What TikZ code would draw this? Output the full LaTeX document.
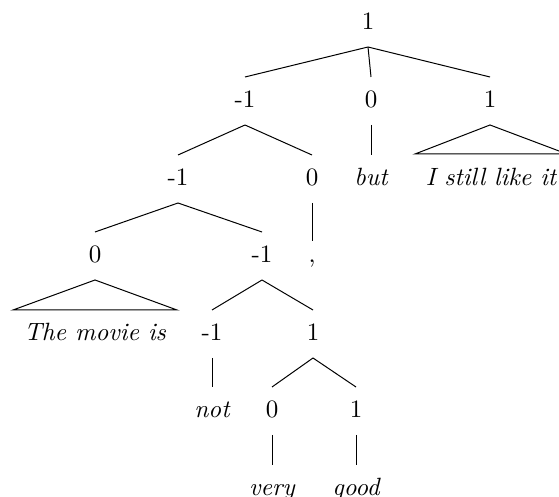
\documentclass[tikz,border=0pt]{standalone}
\usetikzlibrary{calc}
\tikzset{
  lbl/.style={anchor=base, inner sep=0pt},
  wd/.style={lbl, font=\itshape},
  br/.style={line width=0.4pt, line join=miter}
}
\begin{document}
\begin{tikzpicture}[x=0.4pt, y=-0.4pt]
\useasboundingbox (0,0) rectangle (559,497);
% level 0
\node[lbl] (r) at (368,30) {1};
% level 1
\node[lbl] (a) at (245,108) {-1};
\node[lbl] (b) at (371,108) {0};
\node[lbl] (c) at (490,108) {1};
% level 2
\node[lbl] (d) at (178,186) {-1};
\node[lbl] (e) at (312,186) {0};
\node[wd]  (but) at (371,186) {but};
\node[wd]  (t1) at (491,186) {I still like it};
% level 3
\node[lbl] (f) at (95,263) {0};
\node[lbl] (g) at (262,263) {-1};
\node[lbl] (cm) at (312,263) {,};
% level 4
\node[wd]  (t2) at (95,341) {The movie is};
\node[lbl] (h) at (212,341) {-1};
\node[lbl] (i) at (313,341) {1};
% level 5
\node[wd]  (nt) at (212,418) {not};
\node[lbl] (j) at (272,418) {0};
\node[lbl] (k) at (356,418) {1};
% level 6
\node[wd]  (vy) at (272,496) {very};
\node[wd]  (gd) at (356,496) {good};
% edges
\foreach \p/\c in {r/a, r/b, r/c, a/d, a/e, b/but, d/f, d/g, g/h, g/i, h/nt, i/j, i/k, j/vy, k/gd}
  \draw[br] ($(\p.base)+(0,17)$) -- ($(\c.base)+(0,-31)$);
\draw[br] ($(e.base)+(0,17)$) -- ($(cm.base)+(0,-22)$);
% roofs
\draw[br] ($(t1.base)+(-76,-32)$) -- ($(c.base)+(0,17)$) -- ($(t1.base)+(76,-32)$) -- cycle;
\draw[br] ($(t2.base)+(-82,-31)$) -- ($(f.base)+(0,17)$) -- ($(t2.base)+(82,-31)$) -- cycle;
\end{tikzpicture}
\end{document}
